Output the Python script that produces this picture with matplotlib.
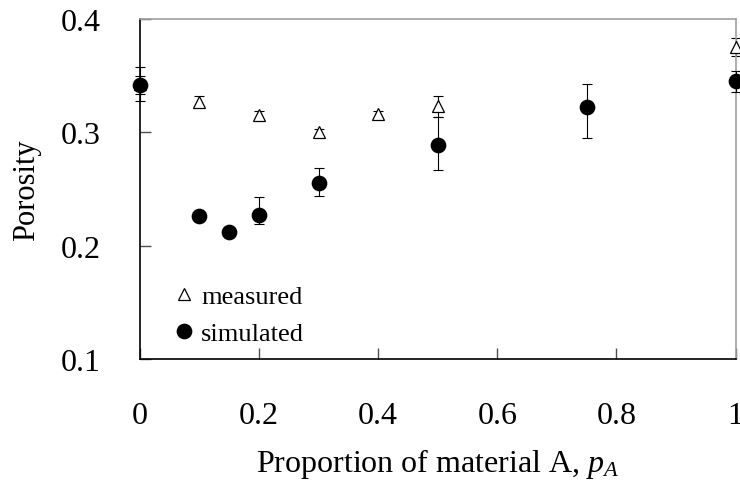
import numpy as np
import matplotlib.pyplot as plt

plt.rcParams['font.family'] = ['Liberation Serif', 'DejaVu Serif']
plt.rcParams['mathtext.fontset'] = 'custom'
plt.rcParams['mathtext.rm'] = 'Liberation Serif'
plt.rcParams['mathtext.it'] = 'Liberation Serif:italic'

# measured porosity
meas_x = [0.0, 0.1, 0.2, 0.3, 0.4, 0.5, 1.0]
meas_y = [0.343, 0.327, 0.315, 0.300, 0.316, 0.323, 0.375]
meas_err = [0.015, 0.005, 0.004, 0.003, 0.003, 0.009, 0.008]

# simulated porosity
sim_x = [0.0, 0.1, 0.15, 0.2, 0.3, 0.5, 0.75, 1.0]
sim_y = [0.342, 0.226, 0.212, 0.227, 0.255, 0.289, 0.322, 0.345]
sim_lo = [0.008, 0.003, 0.003, 0.008, 0.011, 0.022, 0.027, 0.009]
sim_hi = [0.008, 0.003, 0.003, 0.016, 0.014, 0.025, 0.021, 0.009]

xticks = [0, 0.2, 0.4, 0.6, 0.8, 1]
xticklabels = ['0', '0.2', '0.4', '0.6', '0.8', '1']
yticks = [0.1, 0.2, 0.3, 0.4]
yticklabels = ['0.1', '0.2', '0.3', '0.4']

fig = plt.figure(figsize=(7.4, 4.81), dpi=100)
ax = fig.add_axes([0.189, 0.2516, 0.805, 0.7066])

ax.errorbar(meas_x, meas_y, yerr=meas_err, fmt='none', ecolor='black',
            elinewidth=0.8, capsize=3.6, capthick=0.8, clip_on=False, zorder=2)
ax.plot(meas_x, meas_y, '^', ms=9, mfc='white', mec='black', mew=0.9,
        clip_on=False, zorder=3, label='measured')

ax.errorbar(sim_x, sim_y, yerr=[sim_lo, sim_hi], fmt='none', ecolor='black',
            elinewidth=0.8, capsize=3.6, capthick=0.8, clip_on=False, zorder=4)
ax.plot(sim_x, sim_y, 'o', ms=10.3, color='black', clip_on=False, zorder=5,
        label='simulated')

ax.set_xlim(0, 1)
ax.set_ylim(0.1, 0.4)
ax.set_xticks(xticks)
ax.set_xticklabels(xticklabels)
ax.set_yticks(yticks)
ax.set_yticklabels(yticklabels)

ax.tick_params(direction='in', length=8, width=1, color='#505050',
               labelsize=23, pad=28)
ax.tick_params(axis='x', pad=30)

for s in ['left', 'bottom']:
    ax.spines[s].set_color('black')
    ax.spines[s].set_linewidth(1.2)
for s in ['top', 'right']:
    ax.spines[s].set_color('#a0a0a0')
    ax.spines[s].set_linewidth(1.2)

ax.set_xlabel('Proportion of material A, $\\mathit{p}_{\\mathit{A}}$',
              fontsize=23, labelpad=12)
ax.set_ylabel('Porosity', fontsize=22, labelpad=14)

ax.legend(loc='lower left', bbox_to_anchor=(0.03, -0.014), frameon=False,
          fontsize=19, handlelength=0.6, handletextpad=0.35, labelspacing=0.53,
          borderpad=0.2)

fig.savefig('out.png', dpi=100)
